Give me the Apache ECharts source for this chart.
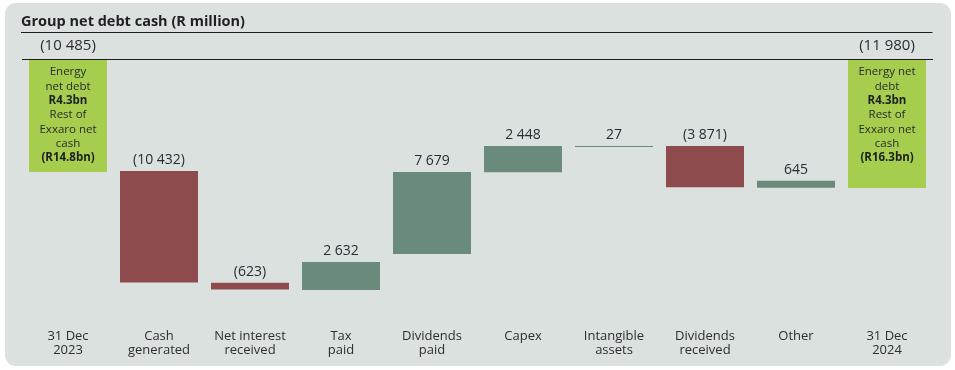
<!DOCTYPE html>
<html>
<head>
<meta charset="utf-8">
<script src="https://cdn.jsdelivr.net/npm/echarts@6/dist/echarts.min.js"></script>
<style>
  html, body { margin: 0; padding: 0; background: #ffffff; }
  #chart { width: 955px; height: 370px; }
</style>
</head>
<body>
<div id="chart"></div>
<script>
// ---- data ----
const categories = ['31 Dec\n2023', 'Cash\ngenerated', 'Net interest\nreceived', 'Tax\npaid', 'Dividends\npaid',
  'Capex', 'Intangible\nassets', 'Dividends\nreceived', 'Other', '31 Dec\n2024'];
const movements = [-10485, -10432, -623, 2632, 7679, 2448, 27, -3871, 645, -11980];
const isTotal = [true, false, false, false, false, false, false, false, false, true];
const valueLabels = ['(10 485)', '(10 432)', '(623)', '2 632', '7 679', '2 448', '27', '(3 871)', '645', '(11 980)'];
// depth (R million) of each floating bar's top edge below the zero line, as drawn in the picture
const barOffsets = [0, 10400, 20850, 18900, 10480, 8050, 8050, 8050, 11300, 0];
const startNote = [['Energy', 'n'], ['net debt', 'n'], ['R4.3bn', 'b'], ['Rest of', 'n'], ['Exxaro net', 'n'], ['cash', 'n'], ['(R14.8bn)', 'b']];
const endNote = [['Energy net', 'n'], ['debt', 'n'], ['R4.3bn', 'b'], ['Rest of', 'n'], ['Exxaro net', 'n'], ['cash', 'n'], ['(R16.3bn)', 'b']];
const axisMin = -22500;

// ---- styles ----
const C_TOTAL = '#a6cd4e', C_NEG = '#8e4b4e', C_POS = '#6a8a7c', C_BG = '#dbe1df', C_TEXT = '#2b2b36';
const FONT = '"Open Sans", sans-serif';

const chart = echarts.init(document.getElementById('chart'), null, { renderer: 'canvas' });

const noteText = n => n.map(([t, s]) => '{' + s + '|' + t + '}').join('\n');

const baseData = barOffsets.map(v => -v);
const visData = movements.map((m, i) => ({
  value: -Math.abs(m),
  itemStyle: { color: isTotal[i] ? C_TOTAL : (m < 0 ? C_NEG : C_POS) },
  label: isTotal[i] ? { distance: 7, fontSize: 15 } : { distance: 4, fontSize: 14 }
}));
const noteData = movements.map((m, i) => {
  if (!isTotal[i]) return null;
  return { value: -Math.abs(m), label: { formatter: noteText(i === 0 ? startNote : endNote) } };
});

const option = {
  animation: false,
  textStyle: { fontFamily: FONT },
  title: {
    text: 'Group net debt cash (R million)',
    left: 21, top: 14, padding: 0,
    textStyle: { fontFamily: FONT, fontSize: 14.5, fontWeight: 'bold', color: '#1f1f24' }
  },
  graphic: [
    { type: 'rect', z: -10, silent: true, shape: { x: 5, y: 3, width: 946, height: 363, r: 11 }, style: { fill: C_BG } },
    { type: 'line', z: 10, silent: true, shape: { x1: 21, y1: 32.5, x2: 932.5, y2: 32.5 }, style: { stroke: '#1c1c1c', lineWidth: 1.2 } },
    { type: 'line', z: 10, silent: true, shape: { x1: 22, y1: 59.5, x2: 933, y2: 59.5 }, style: { stroke: '#1c1c1c', lineWidth: 1.2 } }
  ],
  grid: { left: 22.5, top: 60, width: 910, height: 240.4 },
  xAxis: {
    type: 'category',
    data: categories,
    axisLine: { show: false },
    axisTick: { show: false },
    axisLabel: { interval: 0, margin: 28.5, fontSize: 13, lineHeight: 14.5, color: '#2e2e33', fontFamily: FONT }
  },
  yAxis: {
    type: 'value', min: axisMin, max: 0, show: false,
    splitLine: { show: false }
  },
  series: [
    {
      name: 'base', type: 'bar', stack: 'w', barWidth: 78, silent: true,
      itemStyle: { color: 'rgba(0,0,0,0)' },
      data: baseData
    },
    {
      name: 'movement', type: 'bar', stack: 'w', barWidth: 78, barMinHeight: 1,
      data: visData,
      label: {
        show: true, position: 'top', color: C_TEXT, fontFamily: FONT,
        formatter: p => valueLabels[p.dataIndex]
      }
    },
    {
      name: 'note', type: 'bar', barWidth: 78, barGap: '-100%', silent: true,
      itemStyle: { color: 'rgba(0,0,0,0)' },
      data: noteData,
      label: {
        show: true, position: 'insideTop', distance: 5, align: 'center',
        rich: {
          n: { fontSize: 11.5, lineHeight: 14.3, color: '#2b2b2b', fontFamily: FONT },
          b: { fontSize: 11.5, lineHeight: 14.3, color: '#1e1e1e', fontWeight: 'bold', fontFamily: FONT }
        }
      }
    }
  ]
};
chart.setOption(option);
</script>
</body>
</html>
